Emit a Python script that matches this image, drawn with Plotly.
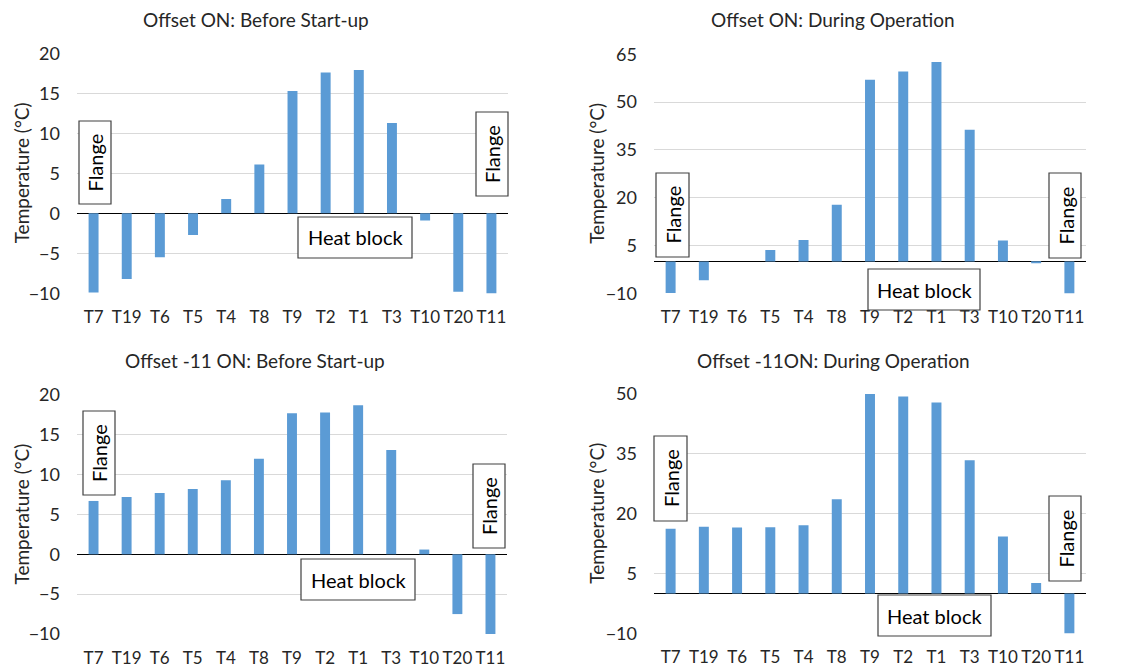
import plotly.graph_objects as go

# Thermocouple positions along the sample, flange to flange
sensors = ["T7", "T19", "T6", "T5", "T4", "T8", "T9", "T2", "T1", "T3", "T10", "T20", "T11"]

# Temperatures (°C) for each configuration
offset_on_before = [-9.9, -8.2, -5.5, -2.7, 1.8, 6.1, 15.3, 17.6, 17.9, 11.3, -0.9, -9.8, -10.2]
offset_on_during = [-9.9, -5.9, 0.0, 3.6, 6.7, 17.8, 57.0, 59.6, 62.6, 41.3, 6.6, -0.3, -10.2]
offset_m11_before = [6.7, 7.2, 7.7, 8.2, 9.3, 12.0, 17.7, 17.8, 18.7, 13.1, 0.6, -7.5, -10.2]
offset_m11_during = [16.2, 16.7, 16.5, 16.6, 17.1, 23.6, 50.0, 49.4, 47.9, 33.4, 14.3, 2.6, -10.2]

titles = [
    "Offset ON: Before Start-up",
    "Offset ON: During Operation",
    "Offset -11 ON: Before Start-up",
    "Offset -11ON: During Operation",
]
y_ranges = [(-10, 20), (-10, 65), (-10, 20), (-10, 50)]
y_dticks = [5, 15, 5, 15]
series = [offset_on_before, offset_on_during, offset_m11_before, offset_m11_during]

W, H = 1128, 671
FONT = "Lato"
BAR = "#5b9bd5"
TXT = "#262626"


def px(x):
    return x / W


def py(y):
    return 1 - y / H


# Plot-area pixel boxes (left, right, top, bottom)
areas = [
    (77, 508, 53.3, 293.3),
    (654, 1086, 54.3, 293.3),
    (77, 507, 395, 634),
    (654, 1086, 394, 633.3),
]

fig = go.Figure()
layout = dict(
    width=W, height=H,
    margin=dict(l=0, r=0, t=0, b=0, autoexpand=False),
    paper_bgcolor="white", plot_bgcolor="white",
    showlegend=False,
    font=dict(family=FONT, color=TXT),
)

for i, (vals, (l, r, t, b)) in enumerate(zip(series, areas)):
    n = "" if i == 0 else str(i + 1)
    fig.add_trace(go.Bar(
        x=sensors, y=vals, width=0.3,
        marker=dict(color=BAR, line=dict(width=0)),
        xaxis="x" + n, yaxis="y" + n,
    ))
    layout["xaxis" + n] = dict(
        domain=[px(l), px(r)], anchor="y" + n, type="category",
        showgrid=False, showline=False, ticks="", automargin=False,
        tickangle=0,
        tickfont=dict(family=FONT, size=17, color=TXT),
        ticklabelstandoff=12, fixedrange=True,
    )
    layout["yaxis" + n] = dict(
        domain=[py(b), py(t)], anchor="x" + n,
        range=list(y_ranges[i]), dtick=y_dticks[i], tick0=-10,
        showgrid=True, gridcolor="#d9d9d9", gridwidth=1,
        zeroline=True, zerolinecolor="#000000", zerolinewidth=1,
        showline=False, ticks="", automargin=False,
        tickfont=dict(family=FONT, size=18, color=TXT),
        ticklabelstandoff=16, fixedrange=True,
    )

annotations = []
shapes = []

# Panel titles and y-axis titles
title_pos = [(256, 19), (833, 19), (255, 360), (833, 360)]
ylab_x = [21, 597, 21, 597]
for i, (l, r, t, b) in enumerate(areas):
    tx, ty = title_pos[i]
    annotations.append(dict(
        text=titles[i], x=px(tx), y=py(ty), xref="paper", yref="paper",
        showarrow=False, xanchor="center", yanchor="middle",
        font=dict(family=FONT, size=19, color=TXT),
    ))
    annotations.append(dict(
        text="Temperature (°C)", x=px(ylab_x[i]), y=py((t + b) / 2),
        xref="paper", yref="paper", showarrow=False, textangle=-90,
        xanchor="center", yanchor="middle",
        font=dict(family=FONT, size=19, color=TXT),
    ))

# Labelled boxes: (x0, x1, y0, y1, text, vertical)
boxes = [
    (79, 111, 121, 204, "Flange", True),
    (476, 508, 112, 196, "Flange", True),
    (298, 412, 217, 258, "Heat block", False),
    (656, 689, 173, 257, "Flange", True),
    (1049, 1081, 173, 258, "Flange", True),
    (868, 980, 269, 310, "Heat block", False),
    (83, 115, 411, 495, "Flange", True),
    (473, 505, 464, 548, "Flange", True),
    (301, 415, 559, 600, "Heat block", False),
    (654, 687, 436, 521, "Flange", True),
    (1049, 1081, 496, 581, "Flange", True),
    (878, 991, 595, 636, "Heat block", False),
]
for x0, x1, y0, y1, label, vertical in boxes:
    shapes.append(dict(
        type="rect", xref="paper", yref="paper",
        x0=px(x0), x1=px(x1), y0=py(y1), y1=py(y0),
        line=dict(color="#404040", width=1.2), fillcolor="white", layer="above",
    ))
    annotations.append(dict(
        text=label, x=px((x0 + x1) / 2), y=py((y0 + y1) / 2),
        xref="paper", yref="paper", showarrow=False,
        textangle=-90 if vertical else 0,
        xanchor="center", yanchor="middle",
        font=dict(family=FONT, size=20, color="#000000"),
    ))

layout["annotations"] = annotations
layout["shapes"] = shapes
fig.update_layout(**layout)

fig.write_html("out.html")
